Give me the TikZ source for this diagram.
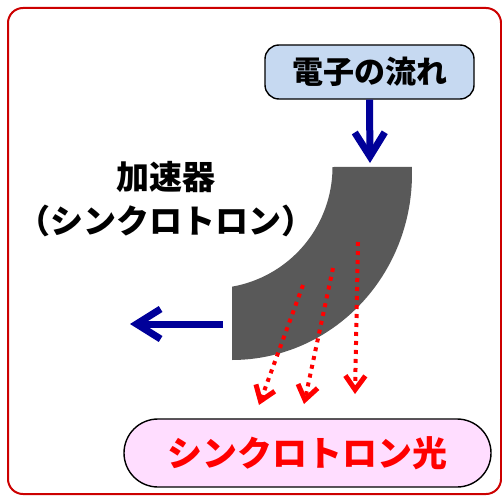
\documentclass[tikz,border=0pt]{standalone}
\usepackage{fontspec}
\newfontfamily\jp{Noto Sans CJK JP}
\usetikzlibrary{arrows.meta}
\definecolor{frame}{HTML}{CC0000}
\definecolor{navy}{HTML}{000099}
\definecolor{ebluefill}{HTML}{C6D9F1}
\definecolor{pinkfill}{HTML}{FFDDFF}
\definecolor{accgray}{HTML}{595959}
\tikzset{
  ebox/.style={draw=black, line width=1.4pt, fill=ebluefill, rounded corners=14pt,
    minimum width=209pt, minimum height=54pt, inner sep=0pt,
    font=\jp\bfseries\fontsize{31}{31}\selectfont},
  pbox/.style={draw=black, line width=1.4pt, fill=pinkfill, rounded corners=34pt,
    minimum width=367pt, minimum height=68pt, inner sep=0pt, text=red,
    font=\jp\bfseries\fontsize{35}{35}\selectfont},
  lbl/.style={align=center, inner sep=0pt, font=\jp\bfseries\fontsize{33}{44}\selectfont},
  barrow/.style={draw=navy, line width=7pt, -{Straight Barb[length=24pt,width=30pt]}},
  rarrow/.style={draw=red, line width=4pt, dash pattern=on 4pt off 5pt,
    -{Straight Barb[length=14pt,width=20pt,line width=5pt]}}
}
\begin{document}
\begin{tikzpicture}[x=1pt, y=-1pt]
\useasboundingbox (0,0) rectangle (502,495);
\begin{scope}
\clip (0,0) rectangle (502,495);
\draw[frame, line width=2pt, rounded corners=15pt] (8,8) rectangle (501,494);
\end{scope}
% accelerator
\fill[accgray] (232,287) -- (232,360)
  -- plot[domain=90:-2.2, samples=50] ({232+180*cos(\x)}, {174+186*sin(\x)})
  -- (332.5,167)
  -- plot[domain=0:80, samples=40] ({211+121.5*cos(\x)}, {167+121.5*sin(\x)})
  -- cycle;
\node[ebox] (e) at (369.5,72) {電子の流れ};
\node[pbox] (s) at (307.5,453) {シンクロトロン光};
\node[lbl] (lab) at (166,199) {加速器\\（シンクロトロン）};
\coordinate (acctop) at (370,163);
\coordinate (accleft) at (223,324);
\coordinate (outl) at (130,324);
\draw[barrow] (e.south) -- (acctop);
\draw[barrow] (accleft) -- (outl);
\coordinate (r1s) at (358,242); \coordinate (r1e) at (355,394);
\coordinate (r2s) at (333,268); \coordinate (r2e) at (304,404);
\coordinate (r3s) at (303,285); \coordinate (r3e) at (259,405);
\draw[rarrow] (r1s) -- (r1e);
\draw[rarrow] (r2s) -- (r2e);
\draw[rarrow] (r3s) -- (r3e);
\end{tikzpicture}
\end{document}
